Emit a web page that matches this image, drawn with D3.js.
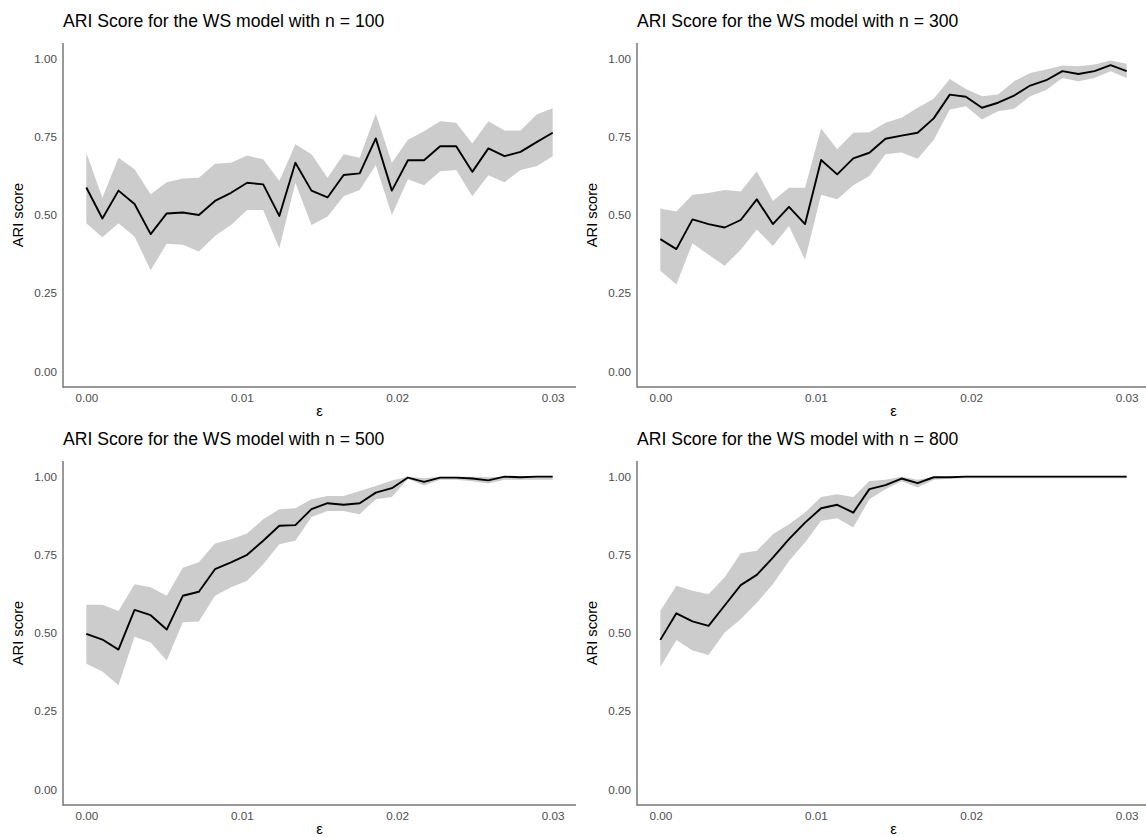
<!DOCTYPE html>
<html>
<head>
<meta charset="utf-8">
<script src="https://cdn.jsdelivr.net/npm/d3@7"></script>
<style>
  html, body { margin: 0; padding: 0; background: #fff; }
  svg { display: block; }
  text { font-family: "Liberation Sans", Arial, Helvetica, sans-serif; }
</style>
</head>
<body>
<svg id="chart" width="1146" height="837"></svg>
<script>
// ---- data ----
const eps = [0, 0.001034, 0.002069, 0.003103, 0.004138, 0.005172, 0.006207, 0.007241, 0.008276, 0.009310,
             0.010345, 0.011379, 0.012414, 0.013448, 0.014483, 0.015517, 0.016552, 0.017586, 0.018621, 0.019655,
             0.020690, 0.021724, 0.022759, 0.023793, 0.024828, 0.025862, 0.026897, 0.027931, 0.028966, 0.030000];

const titles = [
  "ARI Score for the WS model with n = 100",
  "ARI Score for the WS model with n = 300",
  "ARI Score for the WS model with n = 500",
  "ARI Score for the WS model with n = 800"
];

const mean100 = [0.588, 0.489, 0.578, 0.535, 0.439, 0.505, 0.508, 0.500, 0.545, 0.571,
                 0.603, 0.598, 0.497, 0.667, 0.578, 0.556, 0.628, 0.633, 0.745, 0.578,
                 0.675, 0.675, 0.720, 0.720, 0.638, 0.713, 0.688, 0.702, 0.733, 0.763];
const upper100 = [0.699, 0.555, 0.683, 0.646, 0.566, 0.605, 0.617, 0.619, 0.664, 0.667,
                  0.690, 0.678, 0.609, 0.726, 0.694, 0.619, 0.694, 0.683, 0.824, 0.667,
                  0.741, 0.768, 0.800, 0.795, 0.729, 0.800, 0.770, 0.770, 0.821, 0.841];
const lower100 = [0.474, 0.429, 0.474, 0.431, 0.323, 0.408, 0.405, 0.383, 0.433, 0.468,
                  0.516, 0.516, 0.394, 0.603, 0.468, 0.495, 0.560, 0.580, 0.660, 0.500,
                  0.614, 0.595, 0.640, 0.644, 0.560, 0.627, 0.605, 0.644, 0.656, 0.688];

const mean300 = [0.423, 0.391, 0.486, 0.471, 0.460, 0.484, 0.550, 0.471, 0.526, 0.471,
                 0.676, 0.630, 0.681, 0.699, 0.744, 0.754, 0.763, 0.809, 0.885, 0.878,
                 0.843, 0.859, 0.882, 0.914, 0.931, 0.960, 0.951, 0.960, 0.979, 0.960];
const upper300 = [0.521, 0.511, 0.565, 0.570, 0.580, 0.575, 0.640, 0.545, 0.587, 0.587,
                  0.777, 0.710, 0.763, 0.765, 0.795, 0.811, 0.843, 0.872, 0.935, 0.903,
                  0.880, 0.885, 0.928, 0.954, 0.965, 0.978, 0.976, 0.981, 0.994, 0.984];
const lower300 = [0.322, 0.278, 0.410, 0.373, 0.338, 0.389, 0.454, 0.401, 0.465, 0.357,
                  0.565, 0.550, 0.595, 0.625, 0.694, 0.700, 0.680, 0.740, 0.837, 0.848,
                  0.805, 0.832, 0.840, 0.880, 0.900, 0.938, 0.928, 0.938, 0.960, 0.938];

const mean500 = [0.497, 0.479, 0.447, 0.574, 0.557, 0.511, 0.619, 0.632, 0.704, 0.726,
                 0.750, 0.795, 0.843, 0.845, 0.896, 0.915, 0.910, 0.915, 0.949, 0.963,
                 0.997, 0.983, 0.997, 0.997, 0.994, 0.988, 1.000, 0.998, 1.000, 1.000];
const upper500 = [0.590, 0.590, 0.570, 0.656, 0.646, 0.619, 0.709, 0.726, 0.786, 0.800,
                  0.818, 0.864, 0.896, 0.899, 0.928, 0.938, 0.938, 0.954, 0.970, 0.988,
                  1.000, 0.995, 1.000, 1.000, 1.000, 0.998, 1.000, 1.000, 1.000, 1.000];
const lower500 = [0.402, 0.377, 0.333, 0.488, 0.470, 0.412, 0.534, 0.537, 0.619, 0.646,
                  0.667, 0.720, 0.784, 0.795, 0.871, 0.890, 0.890, 0.880, 0.928, 0.935,
                  0.993, 0.972, 0.990, 0.990, 0.985, 0.978, 0.990, 0.990, 0.990, 0.990];

const mean800 = [0.478, 0.563, 0.537, 0.523, 0.588, 0.653, 0.686, 0.741, 0.800, 0.853,
                 0.899, 0.910, 0.885, 0.960, 0.973, 0.994, 0.979, 0.998, 0.998, 1.000,
                 1.000, 1.000, 1.000, 1.000, 1.000, 1.000, 1.000, 1.000, 1.000, 1.000];
const upper800 = [0.571, 0.651, 0.635, 0.624, 0.678, 0.755, 0.763, 0.816, 0.848, 0.885,
                  0.935, 0.944, 0.935, 0.986, 0.990, 1.000, 0.990, 1.000, 1.000, 1.000,
                  1.000, 1.000, 1.000, 1.000, 1.000, 1.000, 1.000, 1.000, 1.000, 1.000];
const lower800 = [0.391, 0.478, 0.444, 0.430, 0.502, 0.544, 0.597, 0.656, 0.730, 0.789,
                  0.859, 0.867, 0.837, 0.928, 0.960, 0.985, 0.965, 0.990, 0.993, 0.995,
                  0.995, 0.995, 0.995, 0.995, 0.995, 0.995, 0.995, 0.995, 0.995, 0.995];

const yTicks = [0, 0.25, 0.5, 0.75, 1];
const xTicks = [0, 0.01, 0.02, 0.03];

const panels = [
  { title: titles[0], mean: mean100, upper: upper100, lower: lower100, col: 0, row: 0 },
  { title: titles[1], mean: mean300, upper: upper300, lower: lower300, col: 1, row: 0 },
  { title: titles[2], mean: mean500, upper: upper500, lower: lower500, col: 0, row: 1 },
  { title: titles[3], mean: mean800, upper: upper800, lower: lower800, col: 1, row: 1 }
];

// ---- layout ----
const colX = [0, 574];
const rowY = [0, 418];
const plotL = 63, plotR = 576, plotT = 43, plotB = 387;

const svg = d3.select("#chart");

const x = d3.scaleLinear().domain([-0.0015, 0.0315]).range([plotL, plotR]);
const y = d3.scaleLinear().domain([-0.05, 1.05]).range([plotB, plotT]);

panels.forEach(p => {
  const g = svg.append("g").attr("transform", `translate(${colX[p.col]},${rowY[p.row]})`);
  const data = eps.map((e, i) => ({ e, m: p.mean[i], lo: p.lower[i], hi: p.upper[i] }));

  // ribbon
  g.append("path")
    .datum(data)
    .attr("fill", "#cccccc")
    .attr("stroke", "none")
    .attr("d", d3.area().x(d => x(d.e)).y0(d => y(d.lo)).y1(d => y(d.hi)));

  // mean line
  g.append("path")
    .datum(data)
    .attr("fill", "none")
    .attr("stroke", "#000")
    .attr("stroke-width", 1.9)
    .attr("stroke-linejoin", "round")
    .attr("d", d3.line().x(d => x(d.e)).y(d => y(d.m)));

  // axes
  const yAxis = d3.axisLeft(y).tickValues(yTicks).tickFormat(d3.format(".2f")).tickSize(0).tickPadding(6);
  const gy = g.append("g").attr("transform", `translate(${plotL},0)`).call(yAxis);
  gy.select(".domain").remove();
  gy.selectAll("text").attr("fill", "#4d4d4d").style("font-size", "11.7px")
    .attr("font-family", "Liberation Sans, Arial, sans-serif");

  const xAxis = d3.axisBottom(x).tickValues(xTicks).tickFormat(d3.format(".2f")).tickSize(0).tickPadding(7);
  const gx = g.append("g").attr("transform", `translate(0,${plotB})`).call(xAxis);
  gx.select(".domain").remove();
  gx.selectAll("text").attr("fill", "#4d4d4d").style("font-size", "11.7px")
    .attr("font-family", "Liberation Sans, Arial, sans-serif");

  // axis lines
  g.append("line").attr("x1", plotL).attr("x2", plotL).attr("y1", plotT).attr("y2", plotB + 0.75)
    .attr("stroke", "#777").attr("stroke-width", 1.5);
  g.append("line").attr("x1", plotL).attr("x2", plotR).attr("y1", plotB).attr("y2", plotB)
    .attr("stroke", "#777").attr("stroke-width", 1.5);

  // title
  g.append("text").attr("x", plotL).attr("y", 27)
    .style("font-size", "17.6px").attr("fill", "#000").text(p.title);

  // axis titles
  g.append("text").attr("x", (plotL + plotR) / 2).attr("y", 416)
    .attr("text-anchor", "middle").style("font-size", "14.7px").attr("fill", "#000").text("ε");
  g.append("text")
    .attr("transform", `translate(23,${(plotT + plotB) / 2}) rotate(-90)`)
    .attr("text-anchor", "middle").style("font-size", "14.7px").attr("fill", "#000").text("ARI score");
});
</script>
</body>
</html>
